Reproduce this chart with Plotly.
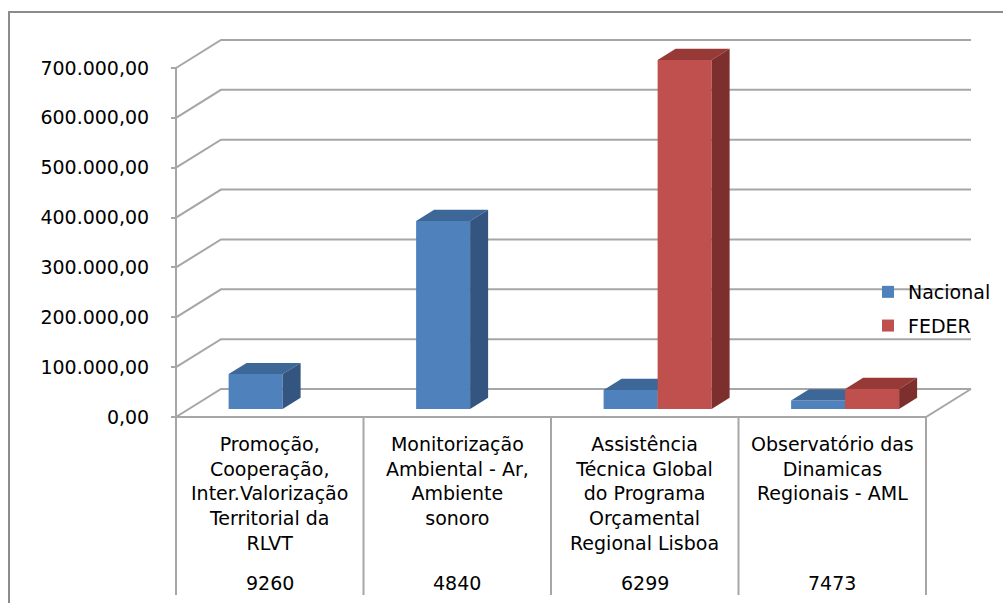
import plotly.graph_objects as go

# ---------------- data ----------------
categories = [
    "Promoção,<br>Cooperação,<br>Inter.Valorização<br>Territorial da<br>RLVT",
    "Monitorização<br>Ambiental - Ar,<br>Ambiente<br>sonoro",
    "Assistência<br>Técnica Global<br>do Programa<br>Orçamental<br>Regional Lisboa",
    "Observatório das<br>Dinamicas<br>Regionais - AML",
]
codes = ["9260", "4840", "6299", "7473"]
series_names = ["Nacional", "FEDER"]
nacional = [70000, 377000, 38000, 17000]
feder = [0, 0, 700000, 40000]
tick_values = [0, 100000, 200000, 300000, 400000, 500000, 600000, 700000]
tick_labels = ["0,00", "100.000,00", "200.000,00", "300.000,00",
               "400.000,00", "500.000,00", "600.000,00", "700.000,00"]

# ---------------- styling / geometry ----------------
W, H = 1003, 603
FONT = "DejaVu Sans"
FS = 19
colors = {
    "Nacional": {"front": "#4F81BD", "top": "#3D6796", "side": "#34557F"},
    "FEDER": {"front": "#C0504D", "top": "#973A37", "side": "#7C2F2D"},
}
GRID = "#A6A6A6"

# pixel mapping of the front plane
X0_PX, CAT_PX = 176, 187.5       # pixel of x=-0.5, pixels per category
Y0_PX, PX_100K = 417, 49.86       # pixel of value 0, pixels per 100k


def xd(px):
    return -0.5 + (px - X0_PX) / CAT_PX


def yd(px):
    return (Y0_PX - px) / PX_100K * 1e5


DX = 45 / CAT_PX                  # depth offset (x, category units)
DY = 28 / PX_100K * 1e5           # depth offset (y, value units)
F0 = 8 / 28                       # depth of bar front faces
FB = 0.4                          # bar depth
BW = 54 / CAT_PX                  # bar width

PL, PR, PT, PB = 168, 990, 20, 600
n = len(categories)

fig = go.Figure()


def line(xs, ys, color=GRID, width=2):
    fig.add_trace(go.Scatter(x=xs, y=ys, mode="lines", showlegend=False,
                             hoverinfo="skip",
                             line=dict(color=color, width=width)))


def poly(xs, ys, color):
    fig.add_trace(go.Scatter(x=xs + [xs[0]], y=ys + [ys[0]], mode="lines",
                             fill="toself", fillcolor=color, showlegend=False,
                             hoverinfo="skip", line=dict(width=0, color=color)))


# back wall gridlines with diagonal from front axis
left, right = -0.5, n - 0.5
for v in tick_values:
    line([left, left + DX, right + DX], [v, v + DY, v + DY])

# floor front edge and right edge
line([left, right, right + DX], [0, 0, DY])

# y axis line + category dividers
line([left, left], [yd(595), tick_values[-1]], color=GRID, width=2)
for i in range(1, n + 1):
    line([i - 0.5, i - 0.5], [yd(595), 0], color=GRID, width=2)

# bars
for i in range(n):
    for s, vals in enumerate([nacional, feder]):
        v = vals[i]
        if v <= 0:
            continue
        name = series_names[s]
        c = colors[name]
        xl = i + F0 * DX - BW + s * BW
        xr = xl + BW
        b = F0 * DY
        ddx, ddy = FB * DX, FB * DY
        # front face
        poly([xl, xr, xr, xl], [b, b, b + v, b + v], c["front"])
        # top face
        poly([xl, xl + ddx, xr + ddx, xr],
             [b + v, b + v + ddy, b + v + ddy, b + v], c["top"])
        # side face
        poly([xr, xr + ddx, xr + ddx, xr],
             [b, b + ddy, b + v + ddy, b + v], c["side"])

# legend entries
for gi, name in enumerate(series_names):
    fig.add_trace(go.Bar(x=[None], y=[None], name=name,
                         marker=dict(color=colors[name]["front"], line=dict(width=0)),
                         legendgroup=name))

# category labels
for i in range(n):
    fig.add_annotation(x=i, y=1 - 431 / H, xref="x", yref="paper",
                       text=categories[i], showarrow=False, xanchor="center",
                       yanchor="top", align="center",
                       font=dict(family=FONT, size=FS, color="#000000"))
    fig.add_annotation(x=i, y=1 - 583 / H, xref="x", yref="paper",
                       text=codes[i], showarrow=False, xanchor="center",
                       yanchor="middle",
                       font=dict(family=FONT, size=FS, color="#000000"))

# outer chart border
fig.add_shape(type="rect", xref="paper", yref="paper",
              x0=9 / W, x1=1.05, y0=-0.05, y1=1 - 12 / H,
              line=dict(color="#8C8C8C", width=2), fillcolor="rgba(0,0,0,0)")

fig.update_layout(
    width=W, height=H,
    margin=dict(l=0, r=0, t=0, b=0),
    paper_bgcolor="white", plot_bgcolor="rgba(0,0,0,0)",
    showlegend=True,
    legend=dict(x=868 / W, y=1 - 273 / H, xanchor="left", yanchor="top",
                bgcolor="rgba(0,0,0,0)", tracegroupgap=6,
                font=dict(family=FONT, size=FS, color="#000000")),
    xaxis=dict(domain=[PL / W, PR / W], range=[xd(PL), xd(PR)],
               showgrid=False, zeroline=False, showticklabels=False,
               showline=False, ticks=""),
    yaxis=dict(domain=[1 - PB / H, 1 - PT / H], range=[yd(PB), yd(PT)],
               anchor="free", position=X0_PX / W,
               tickmode="array", tickvals=tick_values, ticktext=tick_labels,
               ticks="outside", ticklen=5, tickwidth=2, tickcolor=GRID,
               showgrid=False, zeroline=False, showline=False,
               ticklabelstandoff=18,
               tickfont=dict(family=FONT, size=FS, color="#000000")),
    font=dict(family=FONT),
)

fig.write_html("out.html")
